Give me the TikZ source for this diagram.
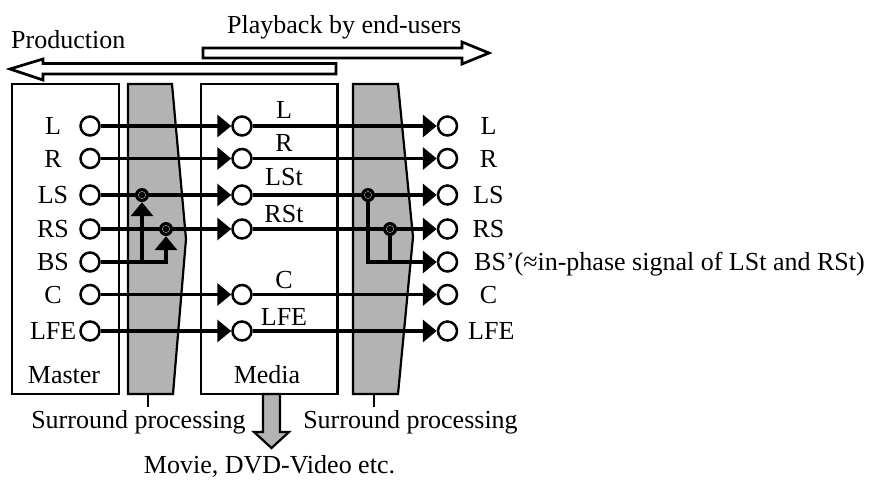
\documentclass[tikz,border=0pt]{standalone}
\usepackage{fontspec}
\setmainfont{Liberation Serif}
\usetikzlibrary{arrows.meta}
\definecolor{procgray}{RGB}{179,179,179}

\begin{document}
\begin{tikzpicture}[x=1pt,y=-1pt,
  frame/.style={draw, line width=2.6pt},
  proc/.style={draw, fill=procgray, line width=2.2pt, line join=miter},
  flow/.style={draw, fill=white, line width=2.7pt, line join=miter},
  port/.style={circle, draw, fill=white, line width=2.5pt, minimum size=19pt, inner sep=0pt},
  wire/.style={line width=3.6pt, -{Triangle[length=14pt,width=22pt]}},
  plainwire/.style={line width=3.6pt},
  junction/.style={circle, fill=black, minimum size=14pt, inner sep=0pt,
    path picture={\draw[black!40, line width=0.5pt] (path picture bounding box.center) circle (3.6pt);}},
  lbl/.style={font=\fontsize{26}{30}\selectfont, inner sep=0pt},
  leader/.style={line width=1.8pt},
]
\useasboundingbox (0,0) rectangle (872,480);

% direction arrows at the top
\path[flow] (203,48) -- (462,48) -- (462,42) -- (489,53) -- (462,64) -- (462,58) -- (203,58) -- cycle;
\path[flow] (336,63.5) -- (43,63.5) -- (43,59) -- (10,69) -- (43,80) -- (43,74) -- (336,74) -- cycle;
\node[lbl, anchor=base west] (tprod) at (11,48) {Production};
\node[lbl, anchor=base west] (tplay) at (227,33) {Playback by end-users};

% master and media boxes
\path[frame] (12,84) rectangle (119,394);
\path[frame] (201,84) rectangle (337.5,394);

% surround processing blocks
\path[proc] (128,84) -- (172,84) -- (186,239) -- (173,394) -- (128,394) -- cycle;
\path[proc] (353,84) -- (398,84) -- (413,237) -- (398,394) -- (353,394) -- cycle;
\draw[leader] (148,394) -- (148,407);
\draw[leader] (374,394) -- (374,407);

% media output arrow
\path[proc] (263,394) -- (280,394) -- (280,432) -- (289,432) -- (271.5,448)
  -- (254,432) -- (263,432) -- cycle;

% ports
\foreach \n/\y in {L/126, R/158.5, LS/195, RS/229, BS/262, C/294.5, LFE/331}
  \node[port] (m\n) at (90,\y) {};
\foreach \n/\y in {L/126, R/158.5, LSt/195, RSt/229, C/294.5, LFE/331}
  \node[port] (d\n) at (242,\y) {};
\foreach \n/\y in {L/126, R/158.5, LS/195, RS/229, BS/262, C/294.5, LFE/331}
  \node[port] (r\n) at (447.5,\y) {};

% junction positions
\coordinate (j1) at (142,195);
\coordinate (j2) at (166,229);
\coordinate (j3) at (368,195);
\coordinate (j4) at (390,229);

% production side wiring
\draw[wire] (mL) -- (dL);
\draw[wire] (mR) -- (dR);
\draw[wire] (mLS) -- (dLSt);
\draw[wire] (mRS) -- (dRSt);
\draw[wire] (mC) -- (dC);
\draw[wire] (mLFE) -- (dLFE);
\node[junction] (J1) at (j1) {};
\node[junction] (J2) at (j2) {};
\draw[wire] (mBS) -| (J2);
\draw[wire] (J1 |- mBS) -- (J1);

% playback side wiring
\draw[wire] (dL) -- (rL);
\draw[wire] (dR) -- (rR);
\draw[wire] (dLSt) -- (rLS);
\draw[wire] (dRSt) -- (rRS);
\draw[wire] (dC) -- (rC);
\draw[wire] (dLFE) -- (rLFE);
\node[junction] (J3) at (j3) {};
\node[junction] (J4) at (j4) {};
\draw[wire] (J3) |- (rBS);
\draw[plainwire] (J4) -- (J4 |- rBS);

% master channel labels
\foreach \n/\y in {L/126, R/158.5, LS/195, RS/229, BS/262, C/294.5}
  \node[lbl, anchor=base] (ml\n) at (53,\y+8.5) {\n};
\node[lbl, anchor=base east] (mlLFE) at (76.5,339.5) {LFE};

% media channel labels
\node[lbl, anchor=base] (dlL) at (284,118.5) {L};
\node[lbl, anchor=base] (dlR) at (284,151) {R};
\node[lbl, anchor=base] (dlLSt) at (284,185) {LSt};
\node[lbl, anchor=base] (dlRSt) at (284,222) {RSt};
\node[lbl, anchor=base] (dlC) at (284,288) {C};
\node[lbl, anchor=base] (dlLFE) at (284,325) {LFE};

% playback channel labels
\foreach \n/\y in {L/126, R/158.5, LS/195, RS/229, C/294.5}
  \node[lbl, anchor=base] (rl\n) at (488.5,\y+8.5) {\n};
\node[lbl, anchor=base west] (rlBS) at (474,270.5) {BS’(≈in-phase signal of LSt and RSt)};
\node[lbl, anchor=base west] (rlLFE) at (468,339.5) {LFE};

% box captions
\node[lbl, anchor=base] (cmaster) at (64,383) {Master};
\node[lbl, anchor=base] (cmedia) at (267,383) {Media};
\node[lbl, anchor=base] (csp1) at (138.5,428) {Surround processing};
\node[lbl, anchor=base] (csp2) at (410.5,428) {Surround processing};
\node[lbl, anchor=base] (cmovie) at (269.5,473) {Movie, DVD-Video etc.};
\end{tikzpicture}
\end{document}
